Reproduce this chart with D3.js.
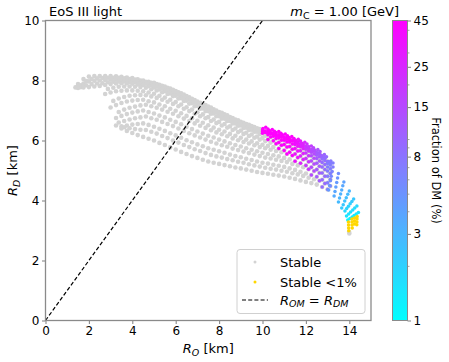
<!DOCTYPE html>
<html><head><meta charset="utf-8">
<script src="https://cdn.jsdelivr.net/npm/d3@7"></script>
<style>body{margin:0;background:#fff} text{font-family:"DejaVu Sans",sans-serif;fill:#000}</style>
</head><body><svg id="c" width="449" height="362"></svg>
<script>
const _ = null;
// R_O grids (km) for the gray "Stable" rows (even rows / odd rows)
const gridX = [1.5,1.75,2,2.25,2.5,2.75,3,3.25,3.5,3.75,4,4.25,4.5,4.75,5,5.25,5.5,5.75,6,6.25,6.5,6.75,7,7.25,7.5,7.75,8,8.25,8.5,8.75,9,9.25,9.5,9.75,10,10.25,10.5,10.75,11,11.25,11.5,11.75,12,12.25,12.5,12.75,13];
const gridXOdd = [1.625,1.875,2.125,2.375,2.625,2.875,3.125,3.375,3.625,3.875,4.125,4.375,4.625,4.875,5.125,5.375,5.625,5.875,6.125,6.375,6.625,6.875,7.125,7.375,7.625,7.875,8.125,8.375,8.625,8.875,9.125,9.375,9.625,9.875,10.125,10.375,10.625,10.875,11.125,11.375,11.625,11.875,12.125,12.375,12.625,12.875,13.125];
// R_D (km) of each sequence of stable configurations, aligned with its grid
const rowA = [7.88,8.05,8.13,8.15,8.15,8.15,8.15,8.14,8.12,8.10,8.08,8.04,8.00,7.96,7.92,7.86,7.80,7.73,7.65,7.57,7.48,7.39,7.30,7.22,7.13,7.04,6.95,6.87,6.78,6.70,6.62,6.55,6.48,6.41,6.35,6.30,6.25,6.19,6.12,6.05,5.97,5.89,5.80,5.70,5.60,5.46,5.30];
const rowB = [7.84,7.98,8.05,8.07,8.08,8.09,8.09,8.09,8.07,8.05,8.03,8.00,7.96,7.92,7.88,7.82,7.76,7.69,7.61,7.53,7.44,7.35,7.26,7.18,7.10,7.00,6.92,6.84,6.75,6.67,6.59,6.52,6.45,6.38,6.32,6.27,6.22,6.16,6.10,6.02,5.95,5.86,5.78,5.68,5.58,5.44,5.28];
const rowC = [7.80,7.90,7.97,7.99,8.00,8.02,8.03,8.03,8.02,8.00,7.98,7.95,7.92,7.88,7.84,7.78,7.72,7.65,7.57,7.49,7.40,7.31,7.22,7.15,7.06,6.97,6.88,6.80,6.71,6.64,6.56,6.49,6.42,6.35,6.29,6.24,6.19,6.14,6.07,6.00,5.92,5.84,5.75,5.66,5.56,5.42,5.26];
const rowD = [7.78,7.84,7.88,7.90,7.91,7.94,7.96,7.97,7.97,7.95,7.94,7.91,7.89,7.85,7.81,7.74,7.68,7.61,7.53,7.45,7.37,7.28,7.19,7.11,7.02,6.94,6.85,6.77,6.68,6.61,6.53,6.46,6.39,6.32,6.27,6.22,6.17,6.11,6.04,5.98,5.90,5.82,5.73,5.64,5.54,5.40,5.25];
const rowE = [7.75,7.77,7.78,7.80,7.82,7.85,7.88,7.90,7.91,7.90,7.89,7.87,7.85,7.81,7.77,7.70,7.64,7.57,7.49,7.41,7.33,7.24,7.15,7.07,6.98,6.90,6.81,6.73,6.65,6.57,6.50,6.43,6.36,6.29,6.24,6.19,6.14,6.08,6.01,5.95,5.87,5.79,5.71,5.61,5.51,5.38,5.23];
const rowF = [_,_,_,_,_,7.72,7.76,7.79,7.80,7.80,7.79,7.78,7.76,7.71,7.67,7.61,7.55,7.48,7.40,7.32,7.23,7.14,7.06,6.98,6.89,6.81,6.73,6.65,6.57,6.49,6.42,6.35,6.29,6.22,6.16,6.12,6.07,6.01,5.95,5.88,5.81,5.73,5.65,5.55,5.46,5.33,5.18];
const rowG = [_,_,_,_,_,7.55,7.60,7.64,7.66,7.67,7.67,7.66,7.64,7.60,7.56,7.49,7.43,7.36,7.28,7.20,7.11,7.03,6.94,6.87,6.78,6.70,6.62,6.55,6.47,6.40,6.33,6.26,6.20,6.13,6.08,6.03,5.99,5.93,5.87,5.80,5.73,5.66,5.58,5.49,5.40,5.27,5.12];
const rowH = [_,_,_,_,_,_,7.32,7.40,7.45,7.49,7.51,7.52,7.51,7.47,7.42,7.36,7.29,7.22,7.14,7.06,6.98,6.89,6.81,6.74,6.65,6.58,6.50,6.43,6.35,6.28,6.22,6.15,6.09,6.03,5.98,5.93,5.89,5.84,5.78,5.71,5.65,5.57,5.49,5.41,5.32,5.20,5.06];
const rowI = [_,_,_,_,_,_,7.10,7.18,7.25,7.30,7.33,7.35,7.36,7.31,7.27,7.20,7.14,7.06,6.99,6.91,6.82,6.74,6.66,6.59,6.51,6.43,6.36,6.30,6.22,6.16,6.09,6.03,5.97,5.91,5.86,5.82,5.78,5.73,5.67,5.61,5.55,5.48,5.40,5.32,5.24,5.12,4.98];
const rowJ = [_,_,_,_,_,_,_,6.95,7.03,7.09,7.13,7.17,7.19,7.14,7.09,7.03,6.96,6.89,6.81,6.73,6.65,6.57,6.49,6.42,6.34,6.27,6.21,6.14,6.07,6.01,5.95,5.90,5.84,5.78,5.74,5.69,5.65,5.61,5.55,5.50,5.43,5.37,5.29,5.22,5.14,5.03,4.90];
const rowK = [_,_,_,_,_,_,_,6.75,6.82,6.88,6.93,6.97,7.00,6.95,6.90,6.83,6.77,6.69,6.62,6.54,6.46,6.38,6.30,6.23,6.16,6.10,6.03,5.97,5.91,5.85,5.80,5.74,5.69,5.64,5.59,5.55,5.51,5.47,5.42,5.37,5.31,5.24,5.17,5.11,5.03,4.92,4.81];
const rowL = [_,_,_,_,_,_,_,6.60,6.65,6.70,6.74,6.77,6.80,6.74,6.69,6.62,6.55,6.48,6.40,6.32,6.24,6.17,6.10,6.03,5.96,5.90,5.84,5.79,5.73,5.68,5.63,5.58,5.53,5.48,5.43,5.40,5.36,5.32,5.28,5.22,5.17,5.11,5.04,4.98,4.92,4.81,4.70];
const rowM = [_,_,_,_,_,_,_,_,6.47,6.50,6.53,6.55,6.57,6.52,6.46,6.39,6.32,6.24,6.17,6.09,6.01,5.94,5.87,5.81,5.74,5.69,5.64,5.59,5.53,5.48,5.44,5.39,5.35,5.30,5.26,5.23,5.19,5.16,5.12,5.07,5.02,4.96,4.90,4.85,4.79,4.69,4.59];
const rowN = [_,_,_,_,_,_,_,_,6.44,6.41,6.38,6.36,6.35,6.29,6.23,6.15,6.08,6.00,5.93,5.85,5.78,5.71,5.65,5.58,5.52,5.47,5.43,5.38,5.34,5.29,5.26,5.21,5.17,5.13,5.09,5.06,5.03,4.99,4.96,4.91,4.87,4.82,4.76,4.71,4.66,4.57,4.48];
const rowO = [_,_,_,_,_,_,_,6.50,6.40,6.32,6.25,6.18,6.12,6.06,6.00,5.92,5.85,5.77,5.70,5.62,5.55,5.48,5.42,5.36,5.30,5.26,5.22,5.18,5.14,5.10,5.07,5.03,4.99,4.95,4.92,4.89,4.86,4.83,4.80,4.76,4.72,4.67,4.62,4.58,4.53,4.45,4.37];
const grayRows = [rowA,rowB,rowC,rowD,rowE,rowF,rowG,rowH,rowI,rowJ,rowK,rowL,rowM,rowN,rowO];
const rowGrids = [gridX,gridXOdd,gridX,gridXOdd,gridX,gridXOdd,gridX,gridXOdd,gridX,gridXOdd,gridX,gridXOdd,gridX,gridXOdd,gridX];
// R_O (km) from which each row carries a DM fraction colour
const colorFromX = [10,10,10,10,10,10.25,10.25,10.5,10.75,11,11.5,12,12.25,12.5,12.75];
// DM fraction (%) per grid column from R_O = 10 km to 13 km
const fracVals = [45,45,45,45,45,42,35,27,20,15,11.5,9,7];
// curls of the high-fraction sequences: [R_O, R_D, fraction %]
const hookPts = [
 [10.02,6.40,45],[10.15,6.44,45],[10.25,6.38,45],[10.32,6.33,45],[10.45,6.37,45],[10.55,6.31,45],
 [10.62,6.27,45],[10.75,6.30,45],[10.85,6.24,45],[10.92,6.19,45],[11.05,6.22,45],[11.15,6.16,45],
 [11.22,6.10,45],[11.35,6.13,45],[11.45,6.07,42],[11.52,6.01,38],[11.65,6.04,35],[11.75,5.98,32],
 [11.82,5.91,28],[11.95,5.94,25],[12.05,5.88,22],[12.12,5.79,20],[12.25,5.82,18],[12.35,5.76,16],
 [12.42,5.67,14],[12.55,5.70,13],[12.65,5.63,12],[12.72,5.50,10.5],[12.85,5.53,10],[12.95,5.46,9],
 [13.02,5.30,8],[13.15,5.32,7.5],[13.25,5.25,7]
];
// tail of the band: [R_O, R_D, fraction %]
const tailPts = [
 [13.25,5.12,7],[13.21,4.97,6.5],[13.17,4.81,6],[13.13,4.66,5.5],[13.09,4.50,5],[13.05,4.35,4.5],
 [13.5,4.9,5.5],[13.46,4.75,5],[13.42,4.6,4.5],[13.38,4.45,4.2],[13.34,4.3,3.8],[13.3,4.15,3.5],
 [13.75,4.62,4],[13.7,4.49,3.7],[13.65,4.35,3.4],[13.6,4.22,3.2],[13.55,4.08,3],[13.5,3.95,2.8],
 [14.0,4.32,3],[13.93,4.21,2.8],[13.86,4.09,2.6],[13.79,3.98,2.5],[13.72,3.86,2.3],[13.65,3.75,2.2],
 [14.2,4.05,2.3],[14.12,3.97,2.2],[14.04,3.89,2.1],[13.96,3.81,2],[13.88,3.73,1.9],[13.8,3.65,1.8],
 [14.35,3.82,1.8],[14.25,3.75,1.7],[14.16,3.68,1.65],[14.06,3.62,1.6],[13.97,3.55,1.55],[13.87,3.48,1.5],
 [14.42,3.6,1.5],[14.32,3.55,1.4],[14.22,3.5,1.3],[14.13,3.45,1.25],[14.03,3.4,1.2],[13.93,3.35,1.15]
];
// stable with DM fraction < 1 %
const goldPts = [[13.96,3.28],[13.965,3.18],[13.97,3.08],[13.975,2.99],[14.12,3.38],[14.125,3.28],[14.13,3.18],[14.135,3.08],
 [14.24,3.42],[14.24,3.32],[14.24,3.22],[14.36,3.47],[14.355,3.38],[14.35,3.28],[14.345,3.19]];
const grayExtra = [[1.38,7.77],[14.0,2.9],[13.99,2.95]];
const xTicks = [0,2,4,6,8,10,12,14];
const yTicks = [0,2,4,6,8,10];
const cbTicks = [1,3,8,15,25,45];
const cbMinor = [2,4,5,6,7,9,10,20,30,40];
const diag = [[0,0],[10,10]];

const svg = d3.select('#c');
const L=45.5,R=371,T=20.5,B=320.5;
const x = d3.scaleLinear().domain([0,15]).range([L,R]);
const y = d3.scaleLinear().domain([0,10]).range([B,T]);
const cLog = d3.scaleLog().domain([1,45]).range([0,1]).clamp(true);
const cool = f => { const t=cLog(f); return d3.rgb(255*t,255*(1-t),255).toString(); };
const spine = '#8a8a8a';
const rg = 2.3, rc = 1.75;

const gPts = svg.append('g');
grayRows.forEach((row,r) => row.forEach((v,i) => { if (v!==null) gPts.append('circle').attr('cx',x(rowGrids[r][i])).attr('cy',y(v)).attr('r',rg).attr('fill','#d3d3d3'); }));
grayExtra.forEach(p => gPts.append('circle').attr('cx',x(p[0])).attr('cy',y(p[1])).attr('r',rg).attr('fill','#d3d3d3'));
const cPts = svg.append('g');
grayRows.forEach((row,r) => row.forEach((v,i) => {
  const xv = rowGrids[r][i];
  if (v!==null && xv >= colorFromX[r]) {
    const f = fracVals[Math.max(0,i-34)];
    cPts.append('circle').attr('cx',x(xv)).attr('cy',y(v)).attr('r',rc).attr('fill',cool(f));
  }
}));
hookPts.forEach(p => cPts.append('circle').attr('cx',x(p[0])).attr('cy',y(p[1])).attr('r',rc).attr('fill',cool(p[2])));
tailPts.forEach(p => cPts.append('circle').attr('cx',x(p[0])).attr('cy',y(p[1])).attr('r',rc).attr('fill',cool(p[2])));
goldPts.forEach(p => cPts.append('circle').attr('cx',x(p[0])).attr('cy',y(p[1])).attr('r',rc).attr('fill','#ffd700'));

svg.append('path').attr('d',d3.line().x(d=>x(d[0])).y(d=>y(d[1]))(diag)).attr('stroke','#000').attr('stroke-width',1.2).attr('stroke-dasharray','4,2.2').attr('fill','none');

// axes
const ax = svg.append('g').attr('transform',`translate(0,${B})`).call(d3.axisBottom(x).tickValues(xTicks).tickSize(3.5).tickPadding(2.5).tickFormat(d3.format('d')));
const ay = svg.append('g').attr('transform',`translate(${L},0)`).call(d3.axisLeft(y).tickValues(yTicks).tickSize(3.5).tickPadding(2.5).tickFormat(d3.format('d')));
[ax,ay].forEach(a=>{ a.select('.domain').remove(); a.selectAll('line').attr('stroke',spine).attr('stroke-width',1.1); a.selectAll('text').style('font-size','12px').style('font-family','DejaVu Sans'); });
svg.append('rect').attr('x',L).attr('y',T).attr('width',R-L).attr('height',B-T).attr('fill','none').attr('stroke',spine).attr('stroke-width',1.3);

// titles
svg.append('text').attr('x',49).attr('y',16).style('font-size','13px').text('EoS III light');
const mt = svg.append('text').attr('x',399).attr('y',16).attr('text-anchor','end').style('font-size','13px');
mt.append('tspan').style('font-style','italic').text('m');
mt.append('tspan').attr('dy',2.5).style('font-size','9.5px').text('C');
mt.append('tspan').attr('dy',-2.5).text(' = 1.00 [GeV]');

const xl = svg.append('text').attr('x',(L+R)/2).attr('y',353).attr('text-anchor','middle').style('font-size','13px');
xl.append('tspan').style('font-style','italic').text('R');
xl.append('tspan').attr('dy',2.5).style('font-size','9.5px').style('font-style','italic').text('O');
xl.append('tspan').attr('dy',-2.5).text(' [km]');
const yl = svg.append('text').attr('transform',`translate(17,${(T+B)/2}) rotate(-90)`).attr('text-anchor','middle').style('font-size','13px');
yl.append('tspan').style('font-style','italic').text('R');
yl.append('tspan').attr('dy',2.5).style('font-size','9.5px').style('font-style','italic').text('D');
yl.append('tspan').attr('dy',-2.5).text(' [km]');

// colorbar
const CX=392.5, CW=15;
const cy = d3.scaleLog().domain([1,45]).range([B,T]);
const grad = svg.append('defs').append('linearGradient').attr('id','gr').attr('x1',0).attr('x2',0).attr('y1',1).attr('y2',0);
d3.range(0,1.0001,0.05).forEach(t=>grad.append('stop').attr('offset',t).attr('stop-color',d3.rgb(255*t,255*(1-t),255).toString()));
svg.append('rect').attr('x',CX).attr('y',T).attr('width',CW).attr('height',B-T).attr('fill','url(#gr)').attr('stroke',spine).attr('stroke-width',1);
const cax = svg.append('g').attr('transform',`translate(${CX+CW},0)`).call(d3.axisRight(cy).tickValues(cbTicks).tickSize(3.5).tickPadding(2.5).tickFormat(d3.format('d')));
cax.select('.domain').remove(); cax.selectAll('line').attr('stroke',spine).attr('stroke-width',1.1); cax.selectAll('text').style('font-size','12px').style('font-family','DejaVu Sans');
const cmin = svg.append('g').attr('transform',`translate(${CX+CW},0)`).call(d3.axisRight(cy).tickValues(cbMinor).tickSize(2).tickFormat(''));
cmin.select('.domain').remove(); cmin.selectAll('line').attr('stroke',spine).attr('stroke-width',0.8);
svg.append('text').attr('transform',`translate(432,${(T+B)/2}) rotate(90)`).attr('text-anchor','middle').style('font-size','11.5px').text('Fraction of DM (%)');

// legend
const lg = svg.append('g');
lg.append('rect').attr('x',237).attr('y',249.5).attr('width',128).attr('height',64).attr('rx',3).attr('fill','#fff').attr('fill-opacity',0.8).attr('stroke','#d0d0d0');
lg.append('circle').attr('cx',255).attr('cy',262).attr('r',1.5).attr('fill','#d3d3d3');
lg.append('text').attr('x',280).attr('y',266.5).style('font-size','13px').text('Stable');
lg.append('circle').attr('cx',255).attr('cy',282).attr('r',1.5).attr('fill','#ffd700');
lg.append('text').attr('x',280).attr('y',286.5).style('font-size','13px').text('Stable <1%');
lg.append('line').attr('x1',242).attr('x2',268).attr('y1',300).attr('y2',300).attr('stroke','#000').attr('stroke-width',1.2).attr('stroke-dasharray','4,2.2');
const lt = lg.append('text').attr('x',280).attr('y',304.5).style('font-size','13px').style('font-style','italic');
lt.append('tspan').text('R');
lt.append('tspan').attr('dy',2.5).style('font-size','9.5px').text('OM');
lt.append('tspan').attr('dy',-2.5).text(' = R');
lt.append('tspan').attr('dy',2.5).style('font-size','9.5px').text('DM');
</script></body></html>
